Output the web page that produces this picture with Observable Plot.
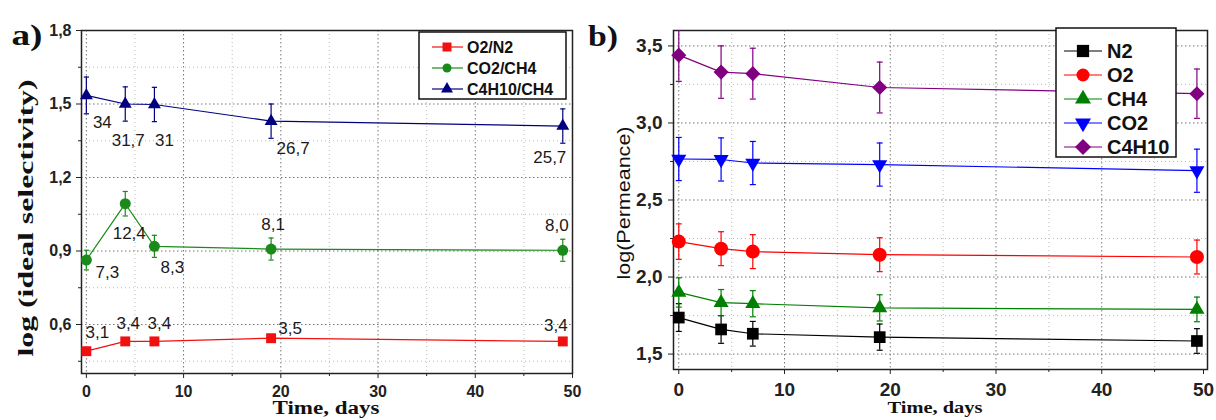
<!DOCTYPE html>
<html><head><meta charset="utf-8">
<script src="https://cdn.jsdelivr.net/npm/d3@7"></script>
<script src="https://cdn.jsdelivr.net/npm/@observablehq/plot@0.6"></script>
<style>
body{margin:0;background:#fff;}
#wrap{position:relative;width:1216px;height:420px;overflow:hidden;background:#fff;}
</style></head><body><div id="wrap"></div>
<script>
// ---------- DATA ----------
const days = [0, 4, 7, 19, 49];

// Panel a: log(ideal selectivity)
const selNames = ["O2/N2", "CO2/CH4", "C4H10/CH4"];
const selO2N2 = [0.491, 0.531, 0.531, 0.544, 0.531];
const selO2N2Err = [0.012, 0.012, 0.012, 0.012, 0.012];
const selO2N2Labels = ["3,1", "3,4", "3,4", "3,5", "3,4"];
const selCO2CH4 = [0.863, 1.093, 0.919, 0.908, 0.903];
const selCO2CH4Err = [0.04, 0.05, 0.045, 0.045, 0.045];
const selCO2CH4Labels = ["7,3", "12,4", "8,3", "8,1", "8,0"];
const selC4H10CH4 = [1.535, 1.50, 1.498, 1.43, 1.41];
const selC4H10CH4Err = [0.075, 0.07, 0.07, 0.07, 0.07];
const selC4H10CH4Labels = ["34", "31,7", "31", "26,7", "25,7"];

// Panel b: log(Permeance)
const permNames = ["N2", "O2", "CH4", "CO2", "C4H10"];
const permN2 = [1.737, 1.66, 1.632, 1.61, 1.585];
const permN2Err = [0.09, 0.09, 0.08, 0.085, 0.08];
const permO2 = [2.23, 2.184, 2.165, 2.145, 2.13];
const permO2Err = [0.115, 0.11, 0.11, 0.11, 0.11];
const permCH4 = [1.90, 1.834, 1.827, 1.80, 1.79];
const permCH4Err = [0.095, 0.085, 0.085, 0.085, 0.08];
const permCO2 = [2.766, 2.763, 2.74, 2.73, 2.69];
const permCO2Err = [0.14, 0.14, 0.14, 0.14, 0.14];
const permC4H10 = [3.44, 3.33, 3.32, 3.23, 3.19];
const permC4H10Err = [0.17, 0.17, 0.165, 0.165, 0.16];

// Tick values
const xMajor = [0, 10, 20, 30, 40, 50];
const xMinor = [5, 15, 25, 35, 45];
const yMajorA = [0.6, 0.9, 1.2, 1.5, 1.8];
const yMinorA = [0.45, 0.75, 1.05, 1.35, 1.65];
const yMajorB = [1.5, 2.0, 2.5, 3.0, 3.5];
const yMinorB = [1.75, 2.25, 2.75, 3.25];

// ---------- STYLE / LAYOUT ----------
const selColors = ["#f01010", "#1a8a1a", "#000080"];
const permColors = ["#000000", "#ff0000", "#008000", "#0000ff", "#800080"];
const selLabelOffsets = [
  [[11, -19], [3, -18], [5, -18], [19, -10], [-7, -16]],
  [[21, 12], [4, 30], [18, 21], [2, -24], [-6, -25]],
  [[16, 27], [3, 37], [10, 36], [22, 27], [-13, 31]]
];

const fmt = d => d.toFixed(1).replace(".", ",");
const capSymbol = {draw(ctx, size) { const w = Math.sqrt(size / Math.PI); ctx.moveTo(-w, 0); ctx.lineTo(w, 0); }};
const triDown = {draw(ctx, size) {
  const y = Math.sqrt(size / (Math.sqrt(3) * 3));
  ctx.moveTo(0, 2 * y); ctx.lineTo(Math.sqrt(3) * y, -y); ctx.lineTo(-Math.sqrt(3) * y, -y); ctx.closePath();
}};
const selSymbols = [d3.symbolSquare, d3.symbolCircle, d3.symbolTriangle];
const selR = [5.6, 5.5, 4.8];
const permSymbols = [d3.symbolSquare, d3.symbolCircle, d3.symbolTriangle, triDown, d3.symbolDiamond2];
const permR = [6.6, 7, 5.6, 5.6, 6.8];

function rows(name, vals, errs, labels) {
  return days.map((d, i) => ({series: name, day: d, value: vals[i], err: errs[i], label: labels ? labels[i] : ""}));
}
const selData = [
  rows(selNames[0], selO2N2, selO2N2Err, selO2N2Labels),
  rows(selNames[1], selCO2CH4, selCO2CH4Err, selCO2CH4Labels),
  rows(selNames[2], selC4H10CH4, selC4H10CH4Err, selC4H10CH4Labels)
];
const permData = [
  rows(permNames[0], permN2, permN2Err),
  rows(permNames[1], permO2, permO2Err),
  rows(permNames[2], permCH4, permCH4Err),
  rows(permNames[3], permCO2, permCO2Err),
  rows(permNames[4], permC4H10, permC4H10Err)
];

function seriesMarks(data, color, symbol, r, cap) {
  return [
    Plot.line(data, {x: "day", y: "value", stroke: color, strokeWidth: 1.2}),
    Plot.ruleX(data, {x: "day", y1: d => d.value - d.err, y2: d => d.value + d.err, stroke: color, strokeWidth: 1.2, clip: true}),
    Plot.dot(data, {x: "day", y: d => d.value + d.err, symbol: capSymbol, r: cap, stroke: color, fill: "none", strokeWidth: 1.2, clip: true}),
    Plot.dot(data, {x: "day", y: d => d.value - d.err, symbol: capSymbol, r: cap, stroke: color, fill: "none", strokeWidth: 1.2, clip: true}),
    Plot.dot(data, {x: "day", y: "value", symbol, r, fill: color, stroke: "none"})
  ];
}

function frameMarks(yMajor, yMinor, tickPadX, tickPadY, lastDx) {
  return [
    Plot.gridX({ticks: xMinor, stroke: "#bbb", strokeOpacity: 1, strokeDasharray: "1,3"}),
    Plot.gridY({ticks: yMinor, stroke: "#bbb", strokeOpacity: 1, strokeDasharray: "1,3"}),
    Plot.gridX({ticks: xMajor.slice(0, -1), stroke: "#777", strokeOpacity: 1, strokeDasharray: "1.5,2.5"}),
    Plot.gridY({ticks: yMajor, stroke: "#777", strokeOpacity: 1, strokeDasharray: "1.5,2.5"}),
    Plot.axisX({ticks: xMajor.slice(0, -1), tickSize: 5, tickPadding: tickPadX, tickFormat: d => String(d), label: null, stroke: "#222"}),
    Plot.axisX({ticks: xMajor.slice(-1), tickSize: 5, tickPadding: tickPadX, tickFormat: d => String(d), label: null, stroke: "#222", dx: lastDx}),
    Plot.axisX({ticks: xMinor, tickSize: 3, tickFormat: () => "", label: null, stroke: "#222"}),
    Plot.axisY({ticks: yMajor, tickSize: 5, tickPadding: tickPadY, tickFormat: fmt, label: null, stroke: "#222"}),
    Plot.axisY({ticks: yMinor, tickSize: 3, tickFormat: () => "", label: null, stroke: "#222"}),
    Plot.frame({stroke: "#222", strokeWidth: 1.5})
  ];
}

// ---------- PANEL A ----------
const marksA = [...frameMarks(yMajorA, yMinorA, 7, 5, 0)];
selData.forEach((data, s) => {
  marksA.push(...seriesMarks(data, selColors[s], selSymbols[s], selR[s], 2.6));
});
selData.forEach((data, s) => {
  data.forEach((row, i) => {
    const [dx, dy] = selLabelOffsets[s][i];
    marksA.push(Plot.text([row], {x: "day", y: "value", text: "label", dx, dy,
      fontSize: 17, fontWeight: "normal", fill: "#1a1a1a", stroke: "none"}));
  });
});
const plotA = Plot.plot({
  width: 600, height: 420,
  marginLeft: 81, marginRight: 28, marginTop: 30, marginBottom: 47,
  x: {domain: [-0.5, 50]},
  y: {domain: [0.4, 1.8]},
  style: {fontFamily: "'Liberation Sans', Arial, sans-serif", fontSize: "16px", fontWeight: "bold", color: "#222", background: "none", overflow: "visible"},
  marks: marksA
});

// ---------- PANEL B ----------
const marksB = [...frameMarks(yMajorB, yMinorB, 8, 6, -4)];
permData.forEach((data, s) => {
  marksB.push(...seriesMarks(data, permColors[s], permSymbols[s], permR[s], 3));
});
const plotB = Plot.plot({
  width: 626, height: 420,
  marginLeft: 83, marginRight: 9, marginTop: 30, marginBottom: 51,
  x: {domain: [-0.5, 50]},
  y: {domain: [1.4, 3.6]},
  style: {fontFamily: "'Liberation Sans', Arial, sans-serif", fontSize: "19px", fontWeight: "bold", color: "#222", background: "none", overflow: "visible"},
  marks: marksB
});

const wrap = document.getElementById("wrap");
plotA.style.position = "absolute"; plotA.style.left = "0px"; plotA.style.top = "0px";
plotB.style.position = "absolute"; plotB.style.left = "590px"; plotB.style.top = "0px";
wrap.appendChild(plotA);
wrap.appendChild(plotB);

// ---------- OVERLAY: titles, axis labels, legends ----------
const ov = d3.select(wrap).append("svg")
  .attr("width", 1216).attr("height", 420)
  .style("position", "absolute").style("left", "0px").style("top", "0px")
  .style("overflow", "visible");

const serif = "'Liberation Serif', 'Times New Roman', serif";
const sans = "'Liberation Sans', Arial, sans-serif";

function label(x, y, text, opts) {
  const t = ov.append("text")
    .attr("x", x).attr("y", y)
    .attr("text-anchor", "middle")
    .attr("font-family", opts.family)
    .attr("font-size", opts.size)
    .attr("font-weight", opts.weight || "bold")
    .attr("fill", "#111")
    .text(text);
  if (opts.length) t.attr("textLength", opts.length).attr("lengthAdjust", "spacingAndGlyphs");
  if (opts.rotate) t.attr("transform", `rotate(-90 ${x} ${y})`);
  if (opts.baseline) t.attr("dominant-baseline", opts.baseline);
  return t;
}
label(27, 45, "a)", {family: serif, size: 30, length: 31});
label(603, 46, "b)", {family: serif, size: 30, length: 30});
label(26, 218, "log (ideal selectivity)", {family: serif, size: 20, length: 277, rotate: true, baseline: "central"});
label(623, 203, "log(Permeance)", {family: sans, size: 19, weight: "normal", length: 153, rotate: true, baseline: "central"});
label(326, 414, "Time, days", {family: serif, size: 18, length: 107});
label(935, 413, "Time, days", {family: serif, size: 16, length: 95});

function legend(box, names, colors, symbols, sizes, rowY, lineX, markX, textX, fontSize) {
  const g = ov.append("g");
  g.append("rect").attr("x", box[0]).attr("y", box[1]).attr("width", box[2]).attr("height", box[3])
    .attr("fill", "#fff").attr("stroke", "#111").attr("stroke-width", 1.5);
  names.forEach((n, i) => {
    const y = rowY[i];
    g.append("line").attr("x1", lineX[0]).attr("x2", lineX[1]).attr("y1", y).attr("y2", y)
      .attr("stroke", colors[i]).attr("stroke-width", 1.2);
    g.append("path").attr("d", d3.symbol(symbols[i], sizes[i])())
      .attr("transform", `translate(${markX},${y})`).attr("fill", colors[i]);
    g.append("text").attr("x", textX).attr("y", y).attr("dominant-baseline", "central")
      .attr("font-family", sans).attr("font-size", fontSize).attr("font-weight", "bold")
      .attr("fill", "#111").text(n);
  });
}
legend([419, 32, 147, 67], selNames, selColors, selSymbols, [81, 64, 62],
  [47, 68, 89], [432, 463], 447, 467, 16);
legend([1056, 28, 120, 129], permNames, permColors, permSymbols, [150, 133, 111, 111, 163],
  [51, 75, 99, 123, 147], [1064, 1102], 1083, 1107, 20);
</script></body></html>
